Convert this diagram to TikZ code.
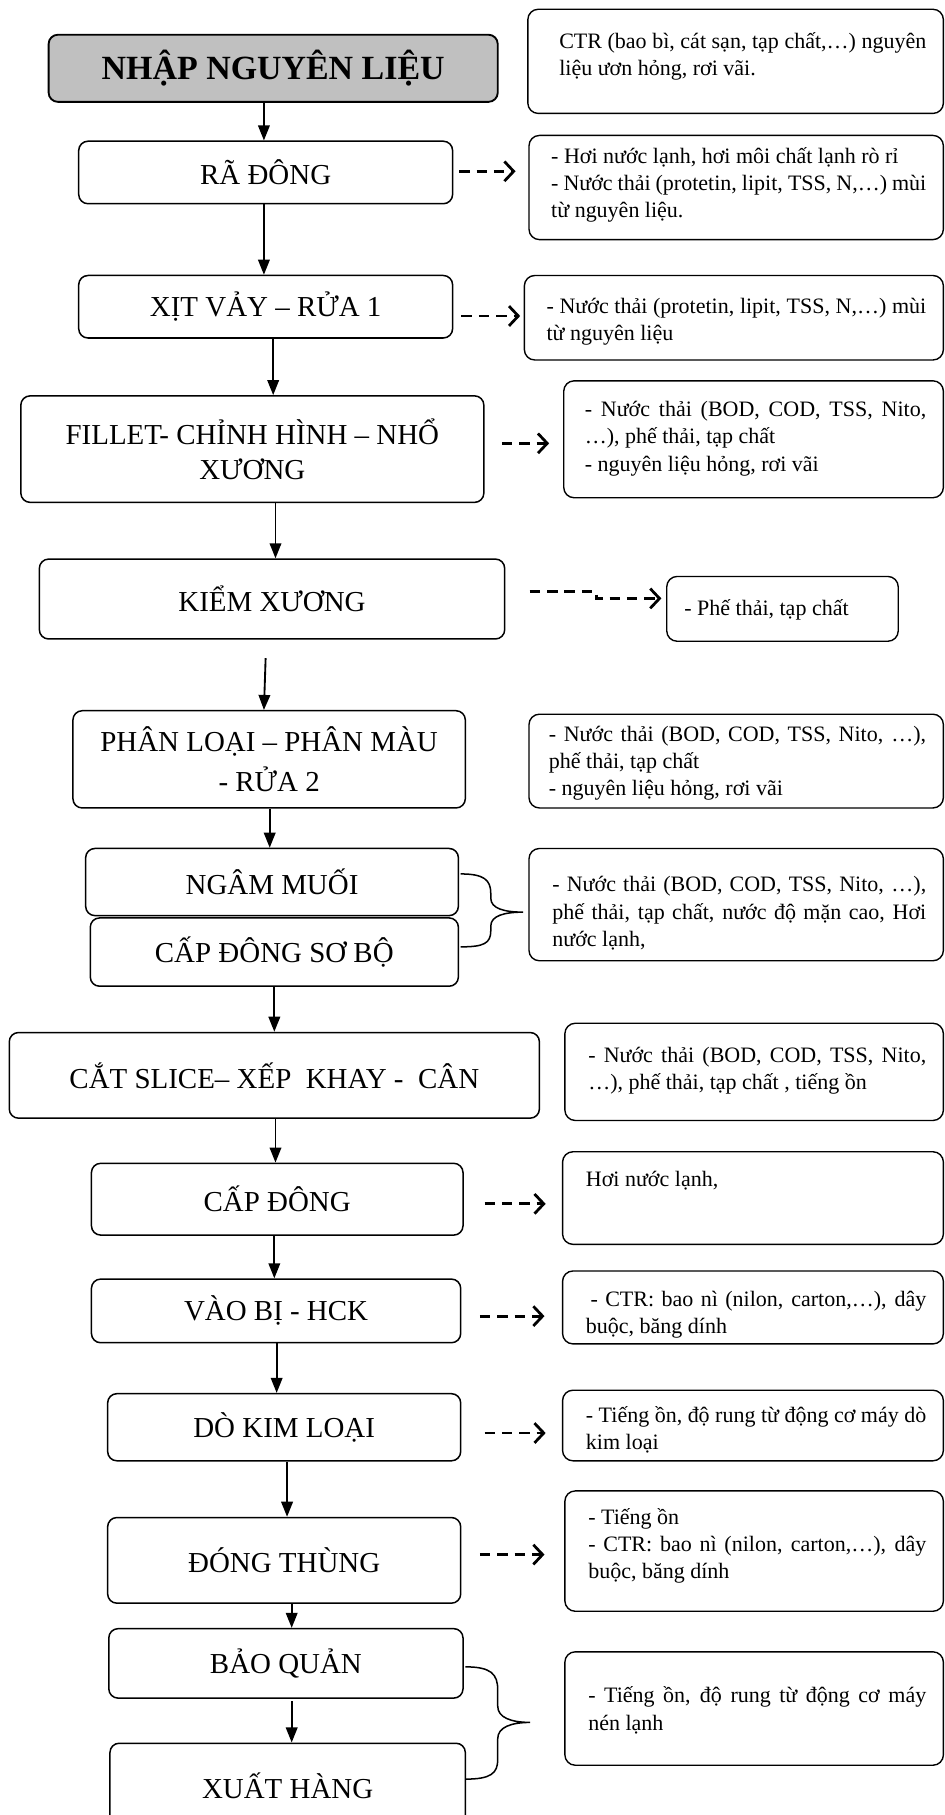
\documentclass[tikz,border=0pt]{standalone}
\usepackage{fontspec}
\setmainfont{Liberation Serif}
\usetikzlibrary{arrows.meta}
\definecolor{hdgray}{RGB}{192,192,192}
\tikzset{
  box/.style={draw, rounded corners=8pt, line width=1.3pt, inner sep=0pt},
  lab/.style={font=\fontsize{25}{30}\selectfont, align=center},
  rbox/.style={draw, rounded corners=9pt, line width=1.2pt, inner sep=0pt},
  rtxt/.style={font=\fontsize{19}{23.5}\selectfont, align=left, inner sep=0pt, anchor=west},
  arr/.style={line width=1.6pt, -{Triangle[length=13pt,width=10pt]}},
  darr/.style={line width=2.4pt, dash pattern=on 9pt off 6pt, -{Straight Barb[length=8pt,width=17pt]}},
  brace/.style={line width=1.3pt},
}
\begin{document}
\begin{tikzpicture}[x=1pt,y=-1pt]
\useasboundingbox (0,0) rectangle (816,1568);
% left process boxes
\node[box, fill=hdgray, line width=1.6pt, minimum width=388pt, minimum height=58pt, font=\fontsize{29.3}{34}\selectfont\bfseries] (nhap) at (236,59) {NHẬP NGUYÊN LIỆU};
\node[box, lab, minimum width=323pt, minimum height=54pt] (ra) at (229.5,149) {RÃ ĐÔNG};
\node[box, lab, minimum width=323pt, minimum height=54pt] (xit) at (229.5,265) {XỊT VẢY – RỬA 1};
\node[box, lab, minimum width=400pt, minimum height=92pt] (fil) at (218,388) {FILLET- CHỈNH HÌNH – NHỔ\\XƯƠNG};
\node[box, lab, minimum width=402pt, minimum height=69pt] (kiem) at (235,517.5) {KIỂM XƯƠNG};
\node[box, lab, font=\fontsize{25}{34}\selectfont, minimum width=339pt, minimum height=84pt] (phan) at (232.5,656) {PHÂN LOẠI – PHÂN MÀU\\- RỬA 2};
\node[box, lab, minimum width=322pt, minimum height=58pt] (ngam) at (235,762) {NGÂM MUỐI};
\node[box, lab, minimum width=318pt, minimum height=59pt] (capsb) at (237,822.5) {CẤP ĐÔNG SƠ BỘ};
\node[box, lab, minimum width=458pt, minimum height=74pt] (cat) at (237,929) {CẮT SLICE– XẾP\ \ KHAY -\ \ CÂN};
\node[box, lab, minimum width=321pt, minimum height=62pt] (capd) at (239.5,1036) {CẤP ĐÔNG};
\node[box, lab, minimum width=319pt, minimum height=55pt] (vao) at (238.5,1132.5) {VÀO BỊ - HCK};
\node[box, lab, minimum width=305pt, minimum height=58pt] (dokl) at (245.5,1233) {DÒ KIM LOẠI};
\node[box, lab, minimum width=305pt, minimum height=74pt] (dong) at (245.5,1348) {ĐÓNG THÙNG};
\node[box, lab, minimum width=306pt, minimum height=60pt] (bao) at (247,1437) {BẢO QUẢN};
\node[box, lab, minimum width=307pt, minimum height=74pt] (xuat) at (248.5,1543) {XUẤT HÀNG};
% right boxes
\node[rbox, minimum width=359pt, minimum height=90pt] (rA) at (635.5,53) {};
\node[rbox, minimum width=358pt, minimum height=90pt] (rB) at (636,162) {};
\node[rbox, minimum width=362pt, minimum height=73pt] (rC) at (634,274.5) {};
\node[rbox, minimum width=328pt, minimum height=101pt] (rD) at (651,379.5) {};
\node[rbox, minimum width=200pt, minimum height=56pt] (rE) at (676,526) {};
\node[rbox, minimum width=358pt, minimum height=81pt] (rF) at (636,657.5) {};
\node[rbox, minimum width=358pt, minimum height=97pt] (rG) at (636,781.5) {};
\node[rbox, minimum width=327pt, minimum height=84pt] (rH) at (651.5,926) {};
\node[rbox, minimum width=329pt, minimum height=80pt] (rI) at (650.5,1035) {};
\node[rbox, minimum width=329pt, minimum height=63pt] (rJ) at (650.5,1129.5) {};
\node[rbox, minimum width=329pt, minimum height=61pt] (rK) at (650.5,1231.5) {};
\node[rbox, minimum width=327pt, minimum height=104pt] (rL) at (651.5,1340) {};
\node[rbox, minimum width=327pt, minimum height=98pt] (rM) at (651.5,1476) {};
% right texts
\node[rtxt] (tA) at (483,48.5) {\makebox[317pt][s]{CTR (bao bì, cát sạn, tạp chất,…) nguyên}\\liệu ươn hỏng, rơi vãi.};
\node[rtxt] (tB) at (476,159.5) {- Hơi nước lạnh, hơi môi chất lạnh rò rỉ\\\makebox[324pt][s]{- Nước thải (protetin, lipit, TSS, N,…) mùi}\\từ nguyên liệu.};
\node[rtxt] (tC) at (472,278) {\makebox[328pt][s]{- Nước thải (protetin, lipit, TSS, N,…) mùi}\\từ nguyên liệu};
\node[rtxt] (tD) at (505,379) {\makebox[295pt][s]{- Nước thải (BOD, COD, TSS, Nito,}\\…), phế thải, tạp chất\\- nguyên liệu hỏng, rơi vãi};
\node[rtxt] (tE) at (591,527) {- Phế thải, tạp chất};
\node[rtxt] (tF) at (474,659.5) {\makebox[326pt][s]{- Nước thải (BOD, COD, TSS, Nito, …),}\\phế thải, tạp chất\\- nguyên liệu hỏng, rơi vãi};
\node[rtxt] (tG) at (477,789) {\makebox[323pt][s]{- Nước thải (BOD, COD, TSS, Nito, …),}\\\makebox[323pt][s]{phế thải, tạp chất, nước độ mặn cao, Hơi}\\nước lạnh,};
\node[rtxt] (tH) at (508,925) {\makebox[292pt][s]{- Nước thải (BOD, COD, TSS, Nito,}\\…), phế thải, tạp chất , tiếng ồn};
\node[rtxt] (tI) at (506,1020) {Hơi nước lạnh,};
\node[rtxt] (tJ) at (506,1136) {\hspace*{4pt}\makebox[290pt][s]{- CTR: bao nì (nilon, carton,…), dây}\\buộc, băng dính};
\node[rtxt] (tK) at (506,1235) {\makebox[294pt][s]{- Tiếng ồn, độ rung từ động cơ máy dò}\\kim loại};
\node[rtxt] (tL) at (508,1335.5) {- Tiếng ồn\\\makebox[292pt][s]{- CTR: bao nì (nilon, carton,…), dây}\\buộc, băng dính};
\node[rtxt] (tM) at (508,1477.5) {\makebox[292pt][s]{- Tiếng ồn, độ rung từ động cơ máy}\\nén lạnh};
% main flow arrows
\draw[arr] (nhap.south -| 228,0) -- (ra.north -| 228,0);
\draw[arr] (ra.south -| 228,0) -- (xit.north -| 228,0);
\draw[arr] (xit.south -| 236,0) -- (fil.north -| 236,0);
\draw[arr] (fil.south -| 238,0) -- (kiem.north -| 238,0);
\draw[arr, shorten <=16pt] (kiem.south -| 230,0) -- (phan.north -| 228,0);
\draw[arr] (phan.south -| 233,0) -- (ngam.north -| 233,0);
\draw[arr] (capsb.south -| 237,0) -- (cat.north -| 237,0);
\draw[arr] (cat.south -| 238,0) -- (capd.north -| 238,0);
\draw[arr] (capd.south -| 237,0) -- (vao.north -| 237,0);
\draw[arr] (vao.south -| 239,0) -- (dokl.north -| 239,0);
\draw[arr] (dokl.south -| 248,0) -- (dong.north -| 248,0);
\draw[arr] (dong.south -| 252,0) -- (bao.north -| 252,0);
\draw[arr, shorten <=2pt] (bao.south -| 252,0) -- (xuat.north -| 252,0);
% dashed arrows
\draw[darr, shorten <=5pt, shorten >=11pt] (ra.east |- 0,148) -- (rB.west |- 0,148);
\draw[darr, shorten <=7pt, shorten >=3pt] (xit.east |- 0,273) -- (rC.west |- 0,273);
\draw[darr, shorten <=15pt, shorten >=12pt] (fil.east |- 0,383) -- (rD.west |- 0,383);
\draw[darr, shorten <=21pt, shorten >=4pt] (kiem.east |- 0,511) -- (515,511) -- (515,517) -- (rE.west |- 0,517);
\draw[darr, shorten <=18pt, shorten >=14pt] (capd.east |- 0,1040) -- (rI.west |- 0,1040);
\draw[darr, shorten <=16pt, shorten >=15pt] (vao.east |- 0,1137) -- (rJ.west |- 0,1137);
\draw[darr, shorten <=20pt, shorten >=14pt] (dokl.east |- 0,1238) -- (rK.west |- 0,1238);
\draw[darr, shorten <=16pt, shorten >=17pt] (dong.east |- 0,1343) -- (rL.west |- 0,1343);
% braces
\draw[brace] (398,755) .. controls (418,755) and (424,760) .. (424,772) -- (424,776) .. controls (424,785) and (436,788) .. (452,788) .. controls (436,788) and (424,791) .. (424,800) -- (424,804) .. controls (424,815) and (418,818) .. (398,818);
\draw[brace] (402,1440) .. controls (424,1440) and (430,1446) .. (430,1460) -- (430,1474) .. controls (430,1484) and (442,1488) .. (458,1488) .. controls (442,1488) and (430,1492) .. (430,1502) -- (430,1520) .. controls (430,1532) and (424,1537) .. (402,1537);
\end{tikzpicture}
\end{document}
